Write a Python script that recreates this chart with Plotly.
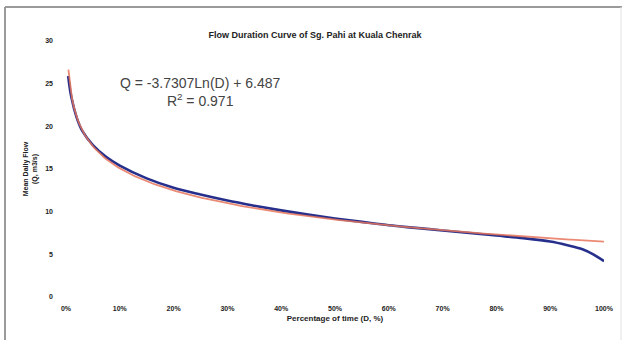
import numpy as np
import plotly.graph_objects as go

# Observed flow duration data: exceedance fraction D and mean daily flow Q (m3/s)
exceedance = [0.004, 0.01, 0.02, 0.03, 0.05, 0.075, 0.1, 0.15, 0.2, 0.25, 0.3, 0.35,
              0.4, 0.45, 0.5, 0.55, 0.6, 0.65, 0.7, 0.75, 0.8, 0.85, 0.9, 0.93,
              0.96, 0.98, 1.0]
flow = [25.9, 23.4, 21.0, 19.5, 17.8, 16.4, 15.4, 13.9, 12.8, 12.0, 11.3, 10.7,
        10.15, 9.65, 9.2, 8.8, 8.4, 8.1, 7.8, 7.5, 7.2, 6.9, 6.5, 6.1,
        5.6, 5.0, 4.2]

# Logarithmic trendline coefficients
trend_slope = -3.7307
trend_intercept = 6.487
r_squared = 0.971

x_ticks = [0.0, 0.1, 0.2, 0.3, 0.4, 0.5, 0.6, 0.7, 0.8, 0.9, 1.0]
x_labels = ["0%", "10%", "20%", "30%", "40%", "50%", "60%", "70%", "80%", "90%", "100%"]
y_ticks = [0, 5, 10, 15, 20, 25, 30]

trend_x = np.linspace(0.0045, 1.0, 300)
trend_y = trend_slope * np.log(trend_x) + trend_intercept

fig = go.Figure()
fig.add_trace(go.Scatter(x=exceedance, y=flow, mode="lines",
                         line=dict(color="#26308c", width=2.6, shape="spline"),
                         showlegend=False))
fig.add_trace(go.Scatter(x=trend_x, y=trend_y, mode="lines",
                         line=dict(color="rgba(230,118,92,0.85)", width=1.8),
                         showlegend=False))

W, H = 627, 340
L, R, T, B = 66, 23, 41, 43
pw, ph = W - L - R, H - T - B


def px_x(px):
    return (px - L) / pw


def px_y(py):
    return (H - B - py) / ph


tick_font = dict(family="Liberation Sans, Arial", size=7, color="#222", weight="bold")

fig.update_layout(
    width=W, height=H,
    margin=dict(l=L, r=R, t=T, b=B),
    paper_bgcolor="white", plot_bgcolor="white",
    title=dict(text="<b>Flow Duration Curve of Sg. Pahi at Kuala Chenrak</b>",
               x=px_x(315), xref="paper", xanchor="center",
               y=1 - 35 / H, yref="container", yanchor="middle",
               font=dict(family="Liberation Sans, Arial", size=9, color="#222")),
    xaxis=dict(range=[0, 1], tickvals=x_ticks, ticktext=x_labels,
               showgrid=False, zeroline=False, showline=False, ticks="",
               tickfont=tick_font, ticklabelstandoff=6,
               title=dict(text="<b>Percentage of time (D, %)</b>", standoff=4,
                          font=dict(family="Liberation Sans, Arial", size=8, color="#222"))),
    yaxis=dict(range=[0, 30], tickvals=y_ticks,
               showgrid=False, zeroline=False, showline=False, ticks="",
               tickfont=tick_font, ticklabelstandoff=12,
               title=dict(text="<b>Mean Daily Flow<br>(Q, m3/s)</b>", standoff=6,
                          font=dict(family="Liberation Sans, Arial", size=7, color="#222"))),
    annotations=[
        dict(text=f"Q = {trend_slope:.4f}Ln(D) + {trend_intercept:.3f}<br>R<sup>2</sup> = {r_squared:.3f}",
             x=px_x(200), y=px_y(92), xref="paper", yref="paper",
             xanchor="center", yanchor="middle", showarrow=False, align="center",
             font=dict(family="Liberation Sans, Arial", size=14, color="#444")),
    ],
    shapes=[
        dict(type="line", xref="paper", yref="paper",
             x0=px_x(5), x1=px_x(5), y0=px_y(7), y1=px_y(340),
             line=dict(color="#9a9a9a", width=2)),
        dict(type="line", xref="paper", yref="paper",
             x0=px_x(5), x1=px_x(622), y0=px_y(7), y1=px_y(7),
             line=dict(color="#9a9a9a", width=2)),
        dict(type="line", xref="paper", yref="paper",
             x0=px_x(621), x1=px_x(621), y0=px_y(7), y1=px_y(340),
             line=dict(color="#e2e2e2", width=1)),
    ],
)

fig.write_html("out.html")
